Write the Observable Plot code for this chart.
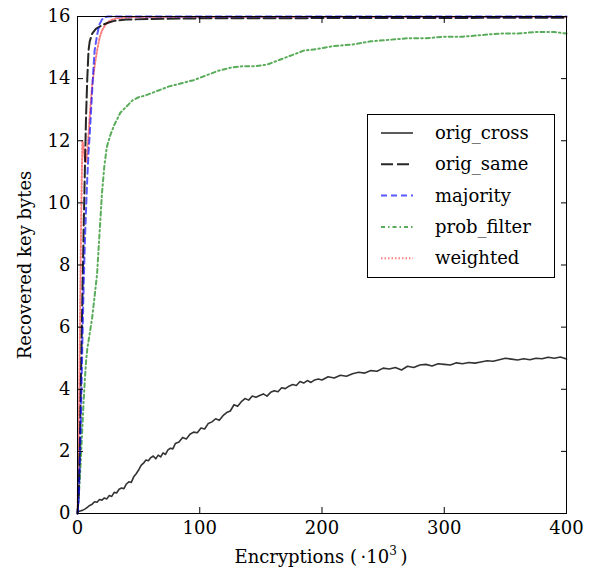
<!DOCTYPE html>
<html>
<head>
<meta charset="utf-8">
<script src="https://cdn.jsdelivr.net/npm/d3@7"></script>
<script src="https://cdn.jsdelivr.net/npm/@observablehq/plot@0.6"></script>
</head>
<body style="margin:0">
<div id="wrap" style="position:relative;width:595px;height:575px"></div>
<script>
// ---- data (x in thousands of encryptions, y = recovered key bytes) ----
const seriesNames = ["orig_cross", "orig_same", "majority", "prob_filter", "weighted"];

const origCrossX = [0,2,4,6,8,10,12,14,16,18,20,22,24,26,28,30,32,34,36,38,40,42,44,46,48,50,52,54,56,58,60,62,64,66,68,70,72,74,76,78,80,83,86,89,92,95,98,101,104,107,110,113,116,119,122,125,128,131,134,137,140,143,146,149,152,155,158,161,164,167,170,173,176,179,182,185,188,191,194,197,200,205,210,215,220,225,230,235,240,245,250,255,260,265,270,275,280,285,290,295,300,305,310,315,320,325,330,335,340,345,350,355,360,365,370,375,380,385,390,395,400];
const origCrossY = [0.05,0.08,0.1,0.14,0.2,0.26,0.3,0.38,0.36,0.45,0.43,0.5,0.47,0.58,0.55,0.68,0.66,0.78,0.82,0.8,0.95,1.02,1.0,1.18,1.28,1.4,1.55,1.62,1.72,1.7,1.8,1.85,1.76,1.88,1.82,1.95,1.9,2.05,2.1,2.08,2.25,2.3,2.45,2.4,2.55,2.62,2.6,2.75,2.72,2.9,2.95,3.05,3.0,3.15,3.25,3.3,3.5,3.45,3.6,3.7,3.65,3.78,3.74,3.8,3.85,3.78,3.9,3.95,3.92,4.05,4.02,4.1,4.15,4.12,4.25,4.2,4.28,4.22,4.3,4.33,4.3,4.4,4.36,4.45,4.42,4.5,4.55,4.52,4.6,4.58,4.68,4.65,4.7,4.62,4.74,4.7,4.78,4.8,4.75,4.82,4.8,4.78,4.85,4.82,4.86,4.84,4.88,4.92,4.9,4.95,5.0,4.97,4.94,4.98,4.95,5.0,4.98,5.03,5.0,5.04,4.97];

const origSameX = [0,1,2,3,4,5,6,7,8,9,10,12,15,20,25,30,40,60,100,150,200,250,300,350,400];
const origSameY = [0,0.6,2.4,4.8,7.0,9.1,11.0,12.8,14.0,14.9,15.2,15.45,15.6,15.72,15.8,15.86,15.9,15.92,15.94,15.94,15.95,15.95,15.95,15.96,15.96];

const majorityX = [0,1,2,3,4,5,6,7,8,9,10,11,12,13,14,16,18,20,22,25,30,50,100,200,300,400];
const majorityY = [0,0.5,1.8,3.5,5.5,7.3,8.7,9.8,10.8,11.6,12.2,12.9,13.6,14.3,14.9,15.4,15.75,15.9,15.97,16.0,16.0,16.0,16.0,16.0,16.0,16.0];

const probFilterX = [0,1,2,3,4,5,6,7,8,10,12,14,16,18,20,22,24,27,30,35,40,45,50,55,65,75,85,95,105,115,125,135,145,155,165,175,185,195,210,225,240,255,270,285,300,315,330,345,360,375,390,400];
const probFilterY = [0,0.5,1.2,2.0,2.8,3.6,4.3,4.9,5.3,5.8,6.3,7.0,7.7,9.0,10.3,11.2,11.8,12.2,12.5,12.9,13.1,13.3,13.4,13.45,13.6,13.75,13.85,13.95,14.1,14.25,14.35,14.4,14.4,14.45,14.6,14.75,14.9,14.95,15.05,15.1,15.2,15.25,15.3,15.3,15.35,15.35,15.4,15.45,15.45,15.5,15.5,15.45];

const weightedX = [0,1,2,3,4,5,6,7,8,9,10,11,12,14,16,18,20,23,26,30,40,60,100,200,300,400];
const weightedY = [0,2.5,6.0,9.5,12.0,11.8,11.4,11.3,11.6,12.2,12.8,13.3,13.8,14.4,14.9,15.3,15.55,15.75,15.85,15.93,15.97,15.98,15.98,15.98,15.98,15.98];

const xTicks = [0,100,200,300,400];
const yTicks = [0,2,4,6,8,10,12,14,16];

// ---- styles ----
const styles = {
  orig_cross:  {stroke: "#000", opacity: 0.8, width: 1.6, dash: null},
  orig_same:   {stroke: "#000", opacity: 0.85, width: 2, dash: "12,4"},
  majority:    {stroke: "blue", opacity: 0.65, width: 2, dash: "6,4"},
  prob_filter: {stroke: "green", opacity: 0.65, width: 2, dash: "4,3,1.5,3"},
  weighted:    {stroke: "red", opacity: 0.5, width: 2, dash: "1.5,2"}
};

function toRows(name, xs, ys) { return xs.map((x, i) => ({series: name, x, y: ys[i]})); }
const seriesData = {
  orig_cross: toRows("orig_cross", origCrossX, origCrossY),
  orig_same: toRows("orig_same", origSameX, origSameY),
  majority: toRows("majority", majorityX, majorityY),
  prob_filter: toRows("prob_filter", probFilterX, probFilterY),
  weighted: toRows("weighted", weightedX, weightedY)
};

const drawOrder = ["prob_filter", "orig_cross", "weighted", "orig_same", "majority"];
const lineMarks = drawOrder.map(name => {
  const s = styles[name];
  return Plot.line(seriesData[name], {
    x: "x", y: "y", stroke: s.stroke, strokeOpacity: s.opacity,
    strokeWidth: s.width, strokeDasharray: s.dash, curve: "linear"
  });
});

const font = "'DejaVu Serif', serif";
const plot = Plot.plot({
  width: 595, height: 575,
  marginLeft: 77, marginRight: 29, marginTop: 16, marginBottom: 62,
  style: {fontFamily: font, fontSize: "18px"},
  x: {domain: [0, 400], label: null},
  y: {domain: [0, 16], label: null},
  marks: [
    ...lineMarks,
    Plot.frame({stroke: "#000", strokeWidth: 1}),
    Plot.axisX(xTicks, {anchor: "bottom", ticks: xTicks, tickSize: 0, tickPadding: 8, fontSize: 18, label: null}),
    Plot.axisX(xTicks, {anchor: "bottom", ticks: xTicks, tickSize: -6, text: null, label: null}),
    Plot.axisX(xTicks, {anchor: "top", ticks: xTicks, tickSize: -6, text: null, label: null}),
    Plot.axisY(yTicks, {anchor: "left", ticks: yTicks, tickSize: 0, tickPadding: 7, fontSize: 18, label: null}),
    Plot.axisY(yTicks, {anchor: "left", ticks: yTicks, tickSize: -6, text: null, label: null}),
    Plot.axisY(yTicks, {anchor: "right", ticks: yTicks, tickSize: -6, text: null, label: null})
  ]
});

const wrap = document.getElementById("wrap");
wrap.appendChild(plot);

// axis labels
const svg = d3.select(plot);
const xl = svg.append("text")
  .attr("x", 321).attr("y", 563)
  .attr("text-anchor", "middle")
  .style("font-family", font).attr("font-size", 18).attr("fill", "#000");
xl.append("tspan").text("Encryptions (\u2009\u00B710");
xl.append("tspan").attr("font-size", 12).attr("dy", -8).text("3");
xl.append("tspan").attr("dy", 8).text("\u2009)");

svg.append("text")
  .attr("transform", "translate(31,265) rotate(-90)")
  .attr("text-anchor", "middle")
  .style("font-family", font).attr("font-size", 18).attr("fill", "#000")
  .text("Recovered key bytes");

// legend
const leg = d3.select(wrap).append("div")
  .style("position", "absolute").style("left", "367px").style("top", "114px")
  .style("width", "186px").style("height", "162px")
  .style("border", "1px solid #000").style("background", "#fff");
const lsvg = leg.append("svg").attr("width", 186).attr("height", 162).style("display", "block");
seriesNames.forEach((name, i) => {
  const s = styles[name];
  const cy = 18 + i * 31.3;
  lsvg.append("line")
    .attr("x1", 13).attr("x2", 45).attr("y1", cy).attr("y2", cy)
    .attr("stroke", s.stroke).attr("stroke-opacity", s.opacity)
    .attr("stroke-width", s.width).attr("stroke-dasharray", s.dash);
  lsvg.append("text")
    .attr("x", 67).attr("y", cy + 6)
    .style("font-family", font).attr("font-size", 18).attr("fill", "#000")
    .text(name);
});
</script>
</body>
</html>
